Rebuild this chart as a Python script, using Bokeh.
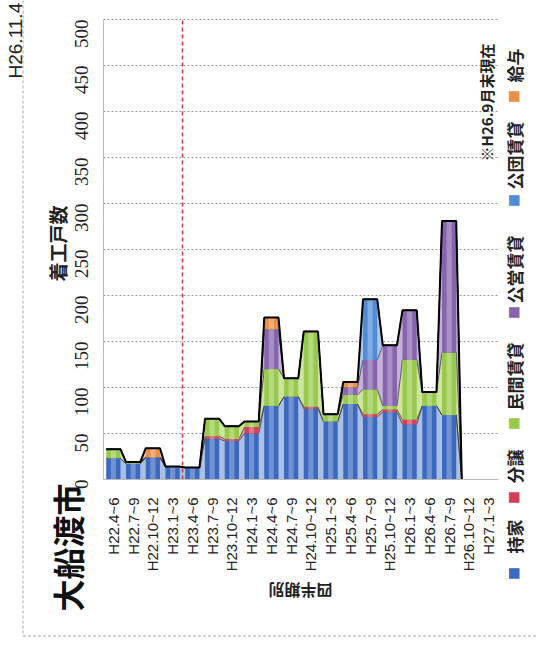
import math
from bokeh.plotting import figure
from bokeh.models import Range1d, FixedTicker, Label
from bokeh.embed import file_html
from bokeh.resources import INLINE

# ---------------- data ----------------
categories = ["H22.4~6", "H22.7~9", "H22.10~12", "H23.1~3", "H23.4~6", "H23.7~9",
              "H23.10~12", "H24.1~3", "H24.4~6", "H24.7~9", "H24.10~12", "H25.1~3",
              "H25.4~6", "H25.7~9", "H25.10~12", "H26.1~3", "H26.4~6", "H26.7~9",
              "H26.10~12", "H27.1~3"]
mochiie = [23, 17, 24, 14, 13, 44, 42, 50, 80, 90, 77, 63, 82, 68, 73, 60, 80, 70, 0, 0]   # 持家
bunjo   = [0, 0, 0, 0, 0, 3, 2, 7, 0, 0, 2, 0, 0, 3, 3, 5, 0, 0, 0, 0]                    # 分譲
minkan  = [10, 2, 0, 0, 0, 19, 14, 6, 40, 20, 82, 8, 10, 27, 4, 65, 15, 68, 0, 0]         # 民間賃貸
koei    = [0, 0, 0, 0, 0, 0, 0, 0, 43, 0, 0, 0, 8, 32, 66, 54, 0, 143, 0, 0]              # 公営賃貸
kodan   = [0, 0, 0, 0, 0, 0, 0, 0, 0, 0, 0, 0, 0, 66, 0, 0, 0, 0, 0, 0]                   # 公団賃貸
kyuyo   = [0, 0, 10, 0, 0, 0, 0, 0, 13, 0, 0, 0, 6, 0, 0, 0, 0, 0, 0, 0]                  # 給与
series_names = ["持家", "分譲", "民間賃貸", "公営賃貸", "公団賃貸", "給与"]
y_ticks = [0, 50, 100, 150, 200, 250, 300, 350, 400, 450, 500]
quake_boundary = 3.5   # between H23.1~3 and H23.4~6
last_reported = 18     # first quarter without data

series = [mochiie, bunjo, minkan, koei, kodan, kyuyo]
colors = ["#3b69c0", "#d23f5a", "#98c94c", "#8665ae", "#4f8bd6", "#e98f48"]
gap_colors = ["#aabfe3", "#e8a0ad", "#cde49f", "#c4b2d9", "#aac8ee", "#f4c7a2"]

CJK = "Noto Sans CJK JP"
W, H = 537, 655
# plotting area (page pixels) inside a frame that covers the whole canvas
PL, PR, PT, PB = 103, 498, 19, 479
n = len(categories)
x_lo, x_hi = -0.5, n - 0.5
y_lo, y_hi = y_ticks[0], y_ticks[-1]
kx = (PR - PL) / (x_hi - x_lo)
ky = (PB - PT) / (y_hi - y_lo)

p = figure(width=W, height=H, output_backend="svg", toolbar_location=None,
           x_range=Range1d(x_lo - PL / kx, x_hi + (W - PR) / kx),
           y_range=Range1d(y_lo - (H - PB) / ky, y_hi + PT / ky),
           min_border=0, min_border_left=0, min_border_right=0,
           min_border_top=0, min_border_bottom=0)
p.outline_line_color = None
p.background_fill_color = "white"
p.border_fill_color = "white"
p.xgrid.grid_line_color = None
p.ygrid.grid_line_color = None

hw = 0.36
idx = list(range(n))
xs = []
for i in idx:
    xs += [i - hw, i + hw]

def dup(v):
    out = []
    for a in v:
        out += [a, a]
    return out

cum = [0] * n
layers = []
for s in series:
    b = cum[:]
    t = [c + v for c, v in zip(cum, s)]
    layers.append((b, t))
    cum = t

# dotted value grid lines
gy = y_ticks[1:]
p.segment(x0=[x_lo] * len(gy), x1=[x_hi] * len(gy), y0=gy, y1=gy,
          line_color="#9a9a9a", line_dash="2 2", line_width=1)

# areas between bars
for (b, t), gc in zip(layers, gap_colors):
    p.varea(x=xs, y1=dup(b), y2=dup(t), fill_color=gc, fill_alpha=1.0)
for (b, t) in layers:
    p.line(xs, dup(t), line_color="#3a3a3a", line_width=1, line_alpha=0.8)

# bars
for (b, t), c in zip(layers, colors):
    p.vbar(x=idx, bottom=b, top=t, width=2 * hw, fill_color=c, line_color=None)
    p.vbar(x=idx, bottom=b, top=t, width=0.26, fill_color="white", fill_alpha=0.28,
           line_color=None)

# black total outline
tot = dup(cum)
cut = 2 * last_reported + 1
p.line(xs[:cut], tot[:cut], line_color="black", line_width=2)

# red dashed marker line
p.segment(x0=[quake_boundary], x1=[quake_boundary], y0=[y_lo], y1=[y_hi],
          line_color="#d2314a", line_dash="4 3", line_width=1.5)

# axes, drawn at fixed locations so they take no side space
p.xaxis.fixed_location = y_lo
p.xaxis.bounds = (x_lo, x_hi)
p.xaxis.ticker = FixedTicker(ticks=idx)
p.xaxis.major_label_overrides = {i: c for i, c in enumerate(categories)}
p.xaxis.major_label_orientation = math.pi / 2
p.xaxis.major_label_standoff = 12
p.xaxis.major_tick_line_color = None
p.xaxis.minor_tick_line_color = None
p.xaxis.axis_line_color = "#bbbbbb"
p.xaxis.major_label_text_font = "Liberation Sans"
p.xaxis.major_label_text_font_size = "15px"
p.xaxis.major_label_text_color = "#222222"

p.yaxis.fixed_location = x_lo
p.yaxis.bounds = (y_lo, y_hi)
p.yaxis.ticker = FixedTicker(ticks=y_ticks)
p.yaxis.major_label_orientation = math.pi / 2
p.yaxis.major_label_standoff = 16
p.yaxis.major_tick_line_color = None
p.yaxis.minor_tick_line_color = None
p.yaxis.axis_line_color = "#bbbbbb"
p.yaxis.major_label_text_font = "Liberation Sans Narrow"
p.yaxis.major_label_text_font_size = "19px"
p.yaxis.major_label_text_color = "#222222"


def lab(text, X, Y, size, angle=math.pi / 2, bold=False, color="#222222", font=CJK,
        align="center"):
    p.add_layout(Label(x=X, y=Y, x_units="canvas", y_units="canvas", text=text,
                       angle=angle, text_align=align, text_baseline="middle",
                       text_font=font, text_font_size=f"{size}px",
                       text_font_style="bold" if bold else "normal",
                       text_color=color))

lab("大船渡市", 66, 547, 32, bold=True, color="#111111")
lab("着工戸数", 57, 243, 19, bold=True)
lab("四半期別", 300, 590, 16, angle=math.pi, bold=True)
lab("※H26.9月末現在", 486, 102, 15, bold=True)
lab("H26.11.4", 15, 78, 19, font="Liberation Sans", align="left")

# legend (rotated, bottom to top)
leg_sq_y = [573, 497, 423, 312, 200, 96]
leg_txt_y = [536, 466, 376, 269, 155, 65]
for name, c, qy, ty in zip(series_names, colors, leg_sq_y, leg_txt_y):
    lab("■", 513, qy, 13, color=c)
    lab(name, 514, ty, 17, bold=True)


# sheet border lines of the scan (page pixels -> data)
def dx(px):
    return x_lo + (px - PL) / kx


def dy(py):
    return y_lo + (PB - py) / ky

p.line([dx(22.5), dx(22.5)], [dy(0), dy(635.5)], line_color="#a8a8a8", line_width=1,
       line_dash="3 2")
p.line([dx(22.5), dx(537)], [dy(635.5), dy(635.5)], line_color="#a8a8a8", line_width=1,
       line_dash="3 2")

open("out.html", "w").write(file_html(p, INLINE))
